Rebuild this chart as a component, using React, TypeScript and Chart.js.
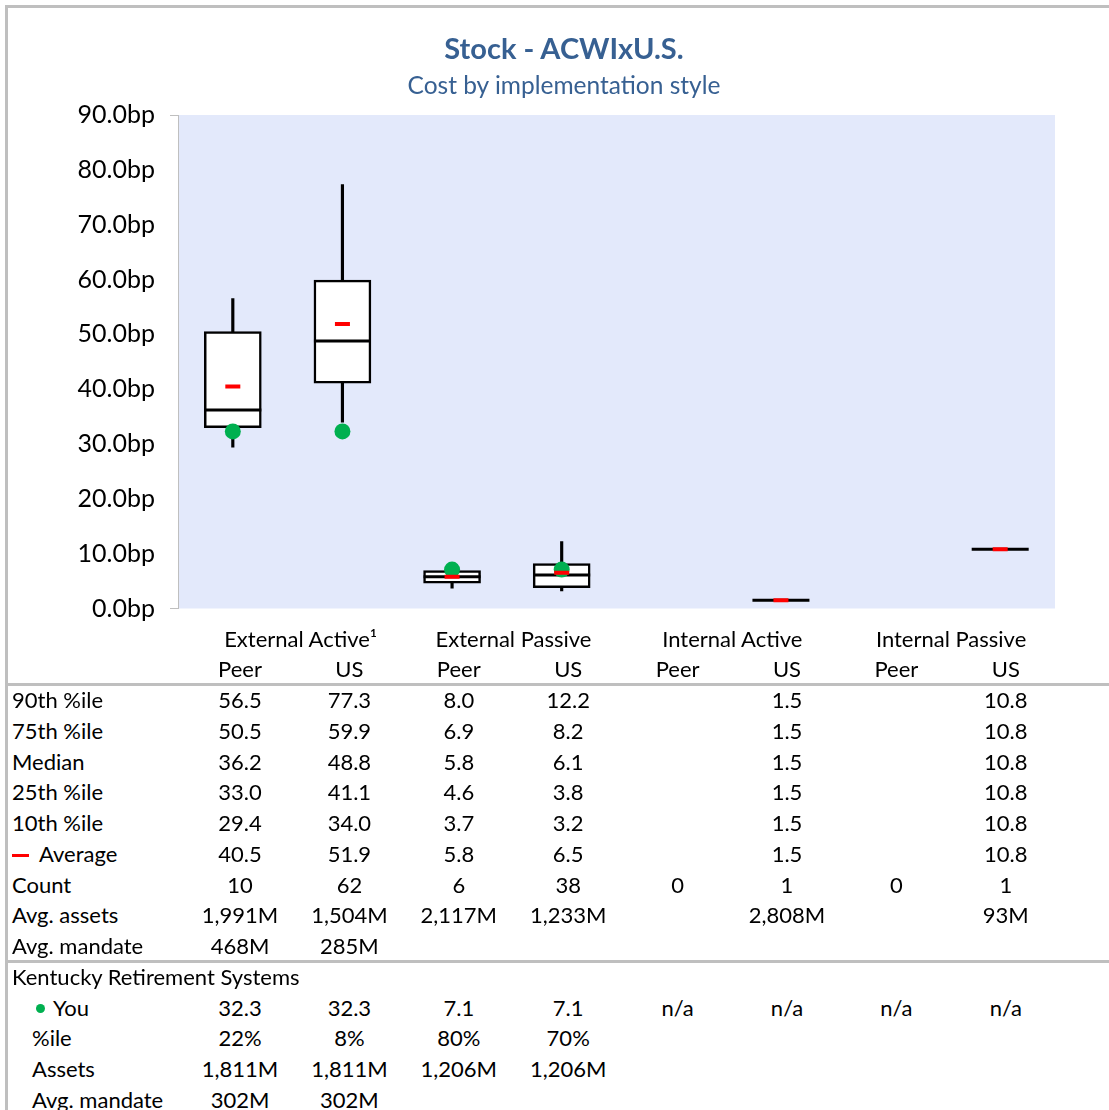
import React, { useEffect, useRef } from "react";
import { Chart, registerables } from "chart.js";

Chart.register(...registerables);

const chartTitle = "Stock - ACWIxU.S.";
const chartSubtitle = "Cost by implementation style";
const groupNames = ["External Active¹", "External Passive", "Internal Active", "Internal Passive"];
const seriesLabels = ["Peer", "US", "Peer", "US", "Peer", "US", "Peer", "US"];
const p90 = [56.5, 77.3, 8.0, 12.2, null, 1.5, null, 10.8];
const p75 = [50.5, 59.9, 6.9, 8.2, null, 1.5, null, 10.8];
const median = [36.2, 48.8, 5.8, 6.1, null, 1.5, null, 10.8];
const p25 = [33.0, 41.1, 4.6, 3.8, null, 1.5, null, 10.8];
const p10 = [29.4, 34.0, 3.7, 3.2, null, 1.5, null, 10.8];
const average = [40.5, 51.9, 5.8, 6.5, null, 1.5, null, 10.8];
const counts = [10, 62, 6, 38, 0, 1, 0, 1];
const avgAssets = ["1,991M", "1,504M", "2,117M", "1,233M", "", "2,808M", "", "93M"];
const avgMandate = ["468M", "285M", "", "", "", "", "", ""];
const youValues = [32.3, 32.3, 7.1, 7.1, null, null, null, null];
const youPercentile = ["22%", "8%", "80%", "70%", "", "", "", ""];
const youAssets = ["1,811M", "1,811M", "1,206M", "1,206M", "", "", "", ""];
const youMandate = ["302M", "302M", "", "", "", "", "", ""];
const yTicks = [0, 10, 20, 30, 40, 50, 60, 70, 80, 90];

const FONT = "Lato, 'DejaVu Sans', sans-serif";
const fmt1 = (v: number | null) => (v == null ? "" : v.toFixed(1));

const bgPlugin = {
  id: "plotBg",
  beforeDraw(chart: any) {
    const { ctx, chartArea } = chart;
    ctx.save();
    ctx.fillStyle = "#e3e9fb";
    ctx.fillRect(chartArea.left, chartArea.top, chartArea.right - chartArea.left, chartArea.bottom - chartArea.top);
    ctx.restore();
  },
};

export default function App() {
  const ref = useRef<HTMLCanvasElement>(null);
  useEffect(() => {
    const chart = new Chart(ref.current!, {
      type: "bar",
      data: {
        labels: seriesLabels,
        datasets: [
          {
            type: "bar",
            data: p10.map((v, i) => (v == null ? null : [v, p90[i] as number])) as any,
            backgroundColor: "#000",
            borderWidth: 0,
            barThickness: 2.5,
            grouped: false,
            order: 6,
          },
          {
            type: "bar",
            data: p25.map((v, i) => (v == null ? null : [v, p75[i] as number])) as any,
            backgroundColor: "#fff",
            borderColor: "#000",
            borderWidth: 2.5,
            borderSkipped: false,
            barThickness: 57,
            grouped: false,
            order: 5,
          },
          {
            type: "line",
            data: median as any,
            showLine: false,
            pointStyle: "line",
            pointRadius: 28.5,
            pointBorderWidth: 3,
            borderColor: "#000",
            pointBorderColor: "#000",
            order: 4,
          },
          {
            type: "line",
            data: youValues as any,
            showLine: false,
            pointStyle: "circle",
            pointRadius: 8,
            pointBorderWidth: 0,
            pointBackgroundColor: "#00b050",
            backgroundColor: "#00b050",
            borderColor: "#00b050",
            order: 2,
          },
          {
            type: "line",
            data: average as any,
            showLine: false,
            pointStyle: "line",
            pointRadius: 7.5,
            pointBorderWidth: 4,
            borderColor: "#ff0000",
            pointBorderColor: "#ff0000",
            order: 1,
          },
        ],
      },
      options: {
        responsive: false,
        animation: false,
        devicePixelRatio: 1,
        layout: { padding: { top: 115, left: 0, right: 54, bottom: 2 } },
        plugins: {
          legend: { display: false },
          tooltip: { enabled: false },
          title: { display: false },
        },
        scales: {
          x: { display: false, offset: true },
          y: {
            min: 0,
            max: 90,
            afterFit(scale: any) {
              scale.width = 178;
            },
            afterBuildTicks(scale: any) {
              scale.ticks = yTicks.map((v) => ({ value: v }));
            },
            ticks: {
              color: "#000",
              font: { family: FONT, size: 25 },
              padding: 15,
              callback: (v: any) => Number(v).toFixed(1) + "bp",
            },
            grid: {
              drawOnChartArea: false,
              drawTicks: true,
              tickLength: 8,
              color: (c: any) => (c.tick && (c.tick.value === 0 || c.tick.value === 90) ? "#bfbfbf" : "rgba(0,0,0,0)"),
            },
            border: { display: true, color: "#bfbfbf", width: 1 },
          },
        },
      },
      plugins: [bgPlugin],
    });
    return () => chart.destroy();
  }, []);

  const colX = (i: number) => 240 + i * 109.4;
  const rowY0 = 700;
  const rowStep = 30.75;
  const textStyle: React.CSSProperties = {
    position: "absolute",
    fontFamily: FONT,
    fontSize: 22,
    lineHeight: "30px",
    height: 30,
    color: "#000",
    whiteSpace: "nowrap",
  };
  const centered = (x: number, y: number, text: React.ReactNode, key: string) => (
    <div key={key} style={{ ...textStyle, left: x - 100, width: 200, top: y - 15, textAlign: "center" }}>
      {text}
    </div>
  );
  const leftText = (x: number, y: number, text: React.ReactNode, key: string) => (
    <div key={key} style={{ ...textStyle, left: x, top: y - 15 }}>
      {text}
    </div>
  );

  type Row = { label: React.ReactNode; values: string[]; indent?: boolean };
  const rows: Row[] = [
    { label: "90th %ile", values: p90.map(fmt1) },
    { label: "75th %ile", values: p75.map(fmt1) },
    { label: "Median", values: median.map(fmt1) },
    { label: "25th %ile", values: p25.map(fmt1) },
    { label: "10th %ile", values: p10.map(fmt1) },
    {
      label: (
        <span>
          <span style={{ display: "inline-block", width: 17, height: 3, background: "#ff0000", verticalAlign: "middle", marginRight: 10, position: "relative", top: -1 }} />
          Average
        </span>
      ),
      values: average.map(fmt1),
    },
    { label: "Count", values: counts.map(String) },
    { label: "Avg. assets", values: avgAssets },
    { label: "Avg. mandate", values: avgMandate },
    { label: "Kentucky Retirement Systems", values: ["", "", "", "", "", "", "", ""] },
    {
      label: (
        <span>
          <span style={{ display: "inline-block", width: 9, height: 9, borderRadius: "50%", background: "#00b050", verticalAlign: "middle", marginRight: 8, position: "relative", top: -1, marginLeft: 4 }} />
          You
        </span>
      ),
      values: youValues.map((v) => (v == null ? "n/a" : v.toFixed(1))),
      indent: true,
    },
    { label: "%ile", values: youPercentile, indent: true },
    { label: "Assets", values: youAssets, indent: true },
    { label: "Avg. mandate", values: youMandate, indent: true },
  ];

  const items: React.ReactNode[] = [];
  groupNames.forEach((g, gi) => {
    const cx = (colX(gi * 2) + colX(gi * 2 + 1)) / 2;
    const isSup = g.endsWith("¹");
    items.push(centered(cx + (isSup ? 6 : 0), 639, g, "g" + gi));
  });
  seriesLabels.forEach((s, i) => items.push(centered(colX(i), 669, s, "s" + i)));
  rows.forEach((r, ri) => {
    const y = rowY0 + ri * rowStep;
    items.push(leftText(r.indent ? 32 : 12, y, r.label, "l" + ri));
    r.values.forEach((v, ci) => {
      if (v !== "") items.push(centered(colX(ci), y, v, "v" + ri + "_" + ci));
    });
  });

  const titleStyle: React.CSSProperties = {
    position: "absolute",
    left: 264,
    width: 600,
    textAlign: "center",
    fontFamily: FONT,
    color: "#376092",
    whiteSpace: "nowrap",
  };

  return (
    <div style={{ position: "absolute", left: 0, top: 0, width: 1109, height: 1110, background: "#fff", overflow: "hidden" }}>
      <canvas ref={ref} width={1109} height={640} style={{ position: "absolute", left: 0, top: 0 }} />
      <div style={{ ...titleStyle, top: 30, height: 36, lineHeight: "36px", fontSize: 29, fontWeight: "bold" }}>{chartTitle}</div>
      <div style={{ ...titleStyle, top: 69, height: 32, lineHeight: "32px", fontSize: 24.5 }}>{chartSubtitle}</div>
      <div style={{ position: "absolute", left: 5, top: 5, width: 1104, height: 3, background: "#bfbfbf" }} />
      <div style={{ position: "absolute", left: 5, top: 5, width: 3, height: 1105, background: "#bfbfbf" }} />
      <div style={{ position: "absolute", left: 5, top: 683, width: 1104, height: 3, background: "#bfbfbf" }} />
      <div style={{ position: "absolute", left: 5, top: 960, width: 1104, height: 3, background: "#bfbfbf" }} />
      {items}
    </div>
  );
}
